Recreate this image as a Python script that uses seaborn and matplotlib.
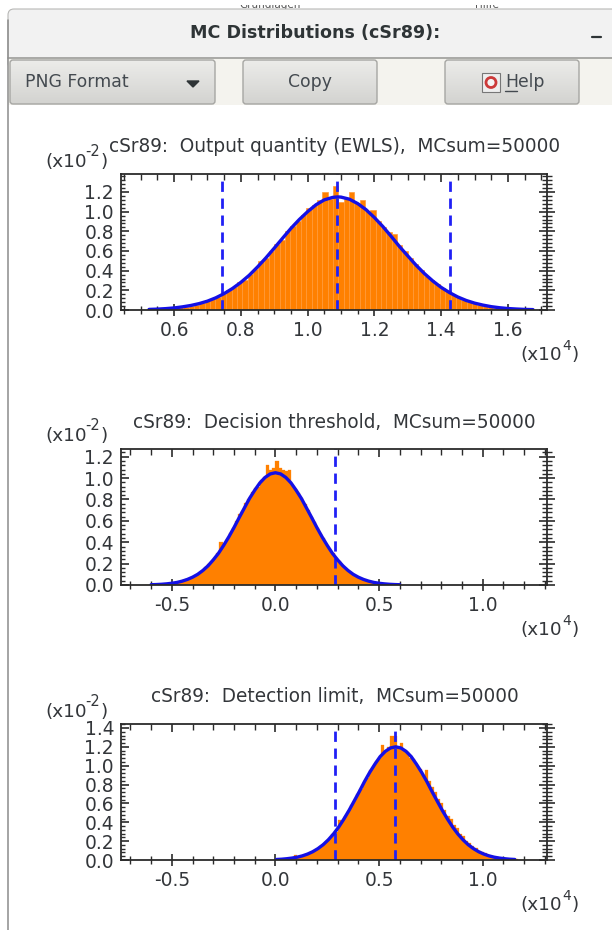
import numpy as np
import matplotlib
matplotlib.use("Agg")
import matplotlib.pyplot as plt
from matplotlib.patches import FancyBboxPatch, Rectangle, Circle
from matplotlib.ticker import MultipleLocator, FormatStrFormatter
import seaborn as sns

# ---- data (x in 1e4, y in 1e-2) ----
titles = ["cSr89:  Output quantity (EWLS),  MCsum=50000",
          "cSr89:  Decision threshold,  MCsum=50000",
          "cSr89:  Detection limit,  MCsum=50000"]

hist1_start, hist1_width = 0.50, 0.016
hist1 = [.003,.005,.007,.010,.014,.016,.028,.026,.034,.045,.055,.075,.105,.108,.130,
         .165,.200,.232,.285,.310,.370,.420,.495,.525,.600,.670,.715,.800,.850,.905,
         .965,1.035,1.065,1.12,1.205,1.13,1.26,1.10,1.13,1.20,1.085,1.12,1.01,1.02,.90,
         .840,.790,.775,.660,.600,.530,.465,.405,.350,.305,.265,.225,.190,.150,
         .135,.105,.085,.070,.055,.045,.035,.025,.020,.016,.012,.009,.006,.005,.004,.003]
curve1_x = [.525,.55,.575,.60,.625,.65,.675,.70,.725,.75,.775,.80,.825,.85,.875,.90,.925,.95,.975,
            1.0,1.025,1.05,1.075,1.09,1.10,1.125,1.15,1.175,1.2,1.225,1.25,1.275,1.30,1.325,1.35,
            1.375,1.40,1.425,1.45,1.475,1.50,1.525,1.55,1.575,1.60,1.625,1.65,1.675]
curve1_y = [.006,.009,.014,.021,.032,.046,.065,.090,.124,.167,.219,.281,.353,.438,.53,.629,.73,.83,.92,
            1.00,1.07,1.12,1.145,1.15,1.148,1.127,1.082,1.02,.94,.85,.75,.646,.55,.455,.37,
            .295,.23,.177,.132,.097,.07,.05,.034,.023,.015,.010,.006,.004]
lines1 = [0.745, 1.088, 1.427]

hist2_start, hist2_width = -0.63, 0.015
hist2 = [.001,.002,.002,.004,.006,.006,.011,.011,.018,.019,.028,.030,.043,.052,.060,.078,.095,.110,.125,.165,
         .195,.215,.245,.295,.400,.385,.430,.485,.535,.600,.660,.690,.770,.800,.870,.910,.920,.980,1.01,1.12,
         1.08,1.09,1.16,1.09,1.08,1.07,1.08,.93,.90,.86,.81,.76,.70,.64,.59,.53,.475,.435,.375,.335,
         .30,.255,.22,.19,.16,.13,.115,.09,.075,.06,.05,.04,.03,.025,.02,.016,.012,.009,.007,.005,
         .004,.003,.002,.001]
curve2_x = [-.6,-.575,-.55,-.525,-.5,-.475,-.45,-.425,-.4,-.375,-.35,-.325,-.3,-.275,-.25,-.225,-.2,-.175,-.15,-.125,-.1,-.075,-.05,-.025,
            0,.025,.05,.075,.1,.125,.15,.175,.2,.225,.25,.275,.3,.325,.35,.375,.4,.425,.45,.475,.5,.525,.55,.575,.6]
curve2_y = [.0026,.0042,.0067,.0107,.0163,.024,.036,.052,.073,.100,.136,.18,.235,.296,.37,.45,.537,.63,.72,.81,.886,.955,1.006,1.039,
            1.05,1.039,1.006,.955,.886,.81,.72,.63,.537,.45,.37,.296,.235,.18,.136,.100,.073,.052,.036,.024,.0163,.0107,.0067,.0042,.0026]
lines2 = [0.2895]

hist3_start, hist3_width = 0.0, 0.015
hist3 = [.004,.008,.009,.014,.015,.022,.055,.034,.045,.050,.068,.078,.100,.115,.145,.165,.200,.225,.275,.300,
         .420,.400,.465,.520,.580,.630,.700,.750,.830,.870,.950,.985,1.05,1.08,1.22,1.15,1.20,1.32,1.32,1.19,
         1.24,1.17,1.14,1.08,1.07,1.01,.97,.895,.955,.84,.775,.72,.65,.60,.535,.47,.43,.37,.335,.28,
         .25,.205,.18,.150,.130,.100,.085,.070,.055,.045,.035,.028,.022,.017,.013,.010,.0075,.0056,.0041,.003,
         .002,.0015,.001,.0007]
curve3_x = [.005,.03,.055,.08,.105,.13,.155,.18,.205,.23,.255,.28,.305,.33,.355,.38,.405,.43,.455,.48,.505,.53,.555,
            .58,.605,.63,.655,.68,.705,.73,.755,.78,.805,.83,.855,.88,.905,.93,.955,.98,1.005,1.03,1.055,1.08,1.105,1.13,1.155]
curve3_y = [.0055,.0085,.0136,.0205,.030,.044,.063,.088,.121,.162,.214,.276,.349,.434,.526,.626,.727,.833,.93,1.017,1.096,1.152,1.188,
            1.2,1.188,1.152,1.096,1.017,.93,.833,.727,.626,.526,.434,.349,.276,.214,.162,.121,.088,.063,.044,.030,.0205,.0136,.0085,.0055]
lines3 = [0.2895, 0.579]

xlims = [(0.441, 1.717), (-0.745, 1.31), (-0.745, 1.31)]
ylims = [(0, 1.383), (0, 1.272), (0, 1.442)]
xmajor = [0.2, 0.5, 0.5]
xminor = [0.05, 0.1, 0.1]
# ---------------------------------------

sns.set_theme(style="white")
plt.rcParams["font.family"] = ["DejaVu Sans"]

W, H = 612, 930
TXT = "#33363a"
ORANGE = "#ff8000"
BLUE = "#1410e6"
fig = plt.figure(figsize=(W / 100, H / 100), dpi=100, facecolor="white")

# pixel-coordinate canvas for the window decoration and free text
bg = fig.add_axes([0, 0, 1, 1], zorder=0)
bg.set_xlim(0, W); bg.set_ylim(H, 0); bg.axis("off")
bg.set_aspect("auto")

bg.text(270, 10.5, "Grundlagen", fontsize=7.5, color="#555", ha="center", va="bottom", zorder=1)
bg.text(487, 10.5, "Hilfe", fontsize=7.5, color="#555", ha="center", va="bottom", zorder=1)
bg.add_patch(Rectangle((0, 0), W, 5, fc="white", ec="none", zorder=2))
bg.add_patch(FancyBboxPatch((8, 9), W + 20, 60, boxstyle="round,pad=0,rounding_size=6",
                            fc="#f2f2f2", ec="#b8b8b6", lw=0.8, zorder=3))
bg.add_patch(Rectangle((8, 58), W, 47, fc="#f4f3ee", ec="none", zorder=4))
bg.plot([8, W], [58, 58], color="#a9a9a6", lw=1.4, zorder=5)
bg.plot([8, 8], [20, H], color="#8c8c8c", lw=1.1, zorder=5)
bg.text(315, 33, "MC Distributions (cSr89):", fontsize=12.6, fontweight="bold", color="#2e3436",
        ha="center", va="center", zorder=6)
bg.plot([592, 601], [37.5, 37.5], color="#2e3436", lw=1.6, zorder=6)

grad = np.linspace(0, 1, 64).reshape(-1, 1)
cmap = matplotlib.colors.LinearSegmentedColormap.from_list("btn", ["#ececea", "#d3d3d0"])
for x0, x1 in [(10, 215), (243, 377), (445, 579)]:
    p = FancyBboxPatch((x0, 60), x1 - x0, 44, boxstyle="round,pad=0,rounding_size=3",
                       fc="none", ec="#a6a6a3", lw=1.0, zorder=7)
    bg.add_patch(p)
    im = bg.imshow(grad, extent=(x0, x1, 104, 60), cmap=cmap, aspect="auto", zorder=6)
    im.set_clip_path(p)
bg.set_xlim(0, W); bg.set_ylim(H, 0)

bfs = 12.4
bg.text(25, 82, "PNG Format", fontsize=bfs, color="#444a50", va="center", zorder=8)
bg.fill([187, 199, 193], [81, 81, 87], color="#2e3436", zorder=8)
bg.text(310, 82, "Copy", fontsize=bfs, color="#444a50", ha="center", va="center", zorder=8)
bg.text(505, 82, "Help", fontsize=bfs, color="#444a50", va="center", zorder=8)
bg.plot([505, 517], [91.5, 91.5], color="#444a50", lw=1, zorder=8)
bg.add_patch(Rectangle((482, 73), 18, 19, fc="#eeeeee", ec="#777777", lw=0.8, zorder=8))
bg.add_patch(Circle((491, 82.5), 5, fc="#f4f4f4", ec="#cc3a3a", lw=2.0, zorder=9))


def power_label(x, y, exponent, exp_dx, exp_dy, paren_dx, exp_fs):
    fs = 13.2
    bg.text(x, y, "(x10", fontsize=fs, color=TXT, va="center", zorder=8)
    bg.text(x + exp_dx, y + exp_dy, exponent, fontsize=exp_fs, color=TXT, va="center", zorder=8)
    bg.text(x + paren_dx, y, ")", fontsize=fs, color=TXT, va="center", zorder=8)


boxes = [(121, 174, 547, 310), (121, 449, 547, 585), (121, 724, 547, 860)]
hists = [(hist1_start, hist1_width, hist1), (hist2_start, hist2_width, hist2), (hist3_start, hist3_width, hist3)]
curves = [(curve1_x, curve1_y), (curve2_x, curve2_y), (curve3_x, curve3_y)]
vlines = [lines1, lines2, lines3]
title_y = [147, 422, 696]
ylab_y = [162, 436, 712]
xlab_y = [355, 630, 905]

for k, (l, t, r, b) in enumerate(boxes):
    ax = fig.add_axes([l / W, 1 - b / H, (r - l) / W, (b - t) / H], zorder=2)
    ax.set_facecolor("none")
    start, width, vals = hists[k]
    edges = start + width * np.arange(len(vals) + 1)
    centers = (edges[:-1] + edges[1:]) / 2
    sns.histplot(x=centers, weights=vals, bins=list(edges), stat="count", ax=ax, color=ORANGE, alpha=1,
                 edgecolor="#ff9a3a" if k == 0 else ORANGE, linewidth=0.5 if k == 0 else 0.2)
    for v in vlines[k]:
        ax.axvline(v, color="#2020f5", lw=2.0, linestyle=(0, (3.7, 2.4)), zorder=4)
    sns.lineplot(x=curves[k][0], y=curves[k][1], ax=ax, color=BLUE, lw=2.4, errorbar=None, sort=False, zorder=5)

    ax.set_xlim(*xlims[k]); ax.set_ylim(*ylims[k])
    ax.set_xlabel(""); ax.set_ylabel("")
    ax.xaxis.set_major_locator(MultipleLocator(xmajor[k]))
    ax.xaxis.set_minor_locator(MultipleLocator(xminor[k]))
    ax.yaxis.set_major_locator(MultipleLocator(0.2))
    ax.yaxis.set_minor_locator(MultipleLocator(0.04))
    ax.xaxis.set_major_formatter(FormatStrFormatter("%.1f"))
    ax.yaxis.set_major_formatter(FormatStrFormatter("%.1f"))
    for s in ax.spines.values():
        s.set_color("#2b2b2b"); s.set_linewidth(1.3); s.set_zorder(6)
    ax.tick_params(axis="x", which="major", direction="inout", length=8, width=1.2, color="#2b2b2b",
                   labelsize=13.4, labelcolor=TXT, pad=4, bottom=True, top=False, zorder=6)
    ax.tick_params(axis="x", which="minor", direction="inout", length=6, width=1.0, color="#2b2b2b",
                   bottom=True, top=False)
    ax.tick_params(axis="y", which="major", direction="in", length=6, width=1.2, color="#2b2b2b",
                   labelsize=13.4, labelcolor=TXT, pad=5, left=True, right=False)
    ax.tick_params(axis="y", which="minor", direction="in", length=3, width=1.0, color="#2b2b2b",
                   left=True, right=False)

    sec_r = ax.secondary_yaxis("right")
    sec_r.yaxis.set_major_locator(MultipleLocator(0.2))
    sec_r.yaxis.set_minor_locator(MultipleLocator(0.04))
    sec_r.tick_params(axis="y", which="major", direction="inout", length=12, width=1.2, color="#2b2b2b",
                      labelright=False)
    sec_r.tick_params(axis="y", which="minor", direction="inout", length=7, width=1.0, color="#2b2b2b")
    sec_r.spines["right"].set_visible(False)

    sec_t = ax.secondary_xaxis("top")
    sec_t.xaxis.set_major_locator(MultipleLocator(xmajor[k]))
    sec_t.xaxis.set_minor_locator(MultipleLocator(xminor[k]))
    sec_t.tick_params(axis="x", which="major", direction="in", length=6, width=1.2, color="#2b2b2b",
                      labeltop=False)
    sec_t.tick_params(axis="x", which="minor", direction="in", length=4, width=1.0, color="#2b2b2b")
    sec_t.spines["top"].set_visible(False)

    bg.text(334.5, title_y[k], titles[k], fontsize=13.35, color=TXT, ha="center", va="center", zorder=8)
    power_label(45, ylab_y[k], "-2", 40, -11, 55, 10.5)
    power_label(520, xlab_y[k], "4", 42, -9, 51.5, 10)

fig.savefig("out.png", dpi=100, facecolor="white")
